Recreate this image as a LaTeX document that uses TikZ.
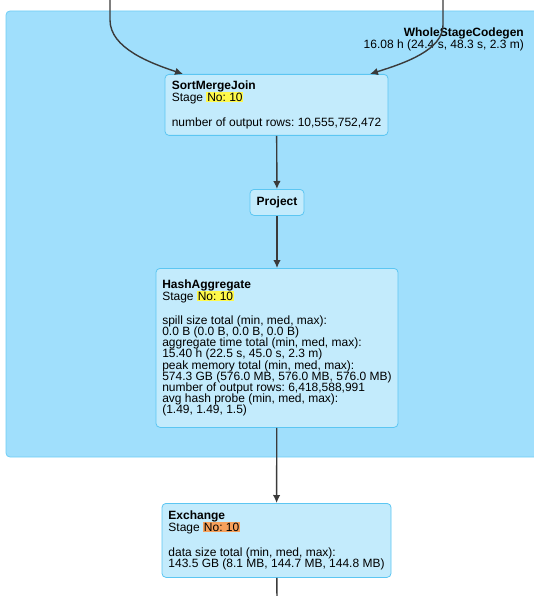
\documentclass[tikz,border=0pt]{standalone}
\usepackage{fontspec}
\setmainfont{Liberation Sans}
\usetikzlibrary{arrows.meta}

\definecolor{clusterfill}{HTML}{A0DFFC}
\definecolor{clusterline}{HTML}{6FCDF5}
\definecolor{opfill}{HTML}{C3EBFC}
\definecolor{opline}{HTML}{5CC6F2}
\definecolor{edgecol}{HTML}{3A3A3A}
\definecolor{stageyellow}{HTML}{FFF94A}
\definecolor{stageorange}{HTML}{F7A15C}

\newcommand{\opfont}{\fontsize{12}{11.2}\selectfont\frenchspacing\lineskiplimit=-20pt\relax}
\newcommand{\stageno}[1]{Stage {\setlength{\fboxsep}{0.8pt}\colorbox{#1}{No: 10}}}

\begin{document}
\begin{tikzpicture}[x=1pt, y=-1pt,
    cluster/.style={fill=clusterfill, draw=clusterline, line width=0.8pt, rounded corners=4pt},
    op/.style={draw=opline, fill=opfill, line width=0.8pt, rounded corners=4pt,
      anchor=north, align=left, inner xsep=0pt, inner ysep=0pt, font=\opfont},
    flow/.style={->, >={Latex[length=8pt,width=7.5pt]}, draw=edgecol, line width=1.4pt}]
  \useasboundingbox (0,0) rectangle (534,596);
  \clip (0,0) rectangle (534,596);
  % codegen stage
  \draw[cluster] (6,11) rectangle (560,457);
  \node[anchor=north east, align=right, font=\opfont, inner sep=0pt] (wscg) at (524,28)
    {\textbf{WholeStageCodegen}\\16.08 h (24.4 s, 48.3 s, 2.3 m)};
  % operators
  \node[op, minimum width=223pt, minimum height=61pt] (smj) at (276.5,74)
    {\textbf{SortMergeJoin}\\[0.8pt]\stageno{stageyellow}\\[13.8pt]
     number of output rows: 10,555,752,472};
  \node[op, align=center, minimum width=54pt, minimum height=26pt] (proj) at (277,189)
    {\textbf{Project}};
  \node[op, minimum width=242pt, minimum height=159pt] (hagg) at (277,268)
    {\textbf{HashAggregate}\\[0.8pt]\stageno{stageyellow}\\[12.8pt]
     spill size total (min, med, max):\\
     0.0 B (0.0 B, 0.0 B, 0.0 B)\\
     aggregate time total (min, med, max):\\
     15.40 h (22.5 s, 45.0 s, 2.3 m)\\
     peak memory total (min, med, max):\\
     574.3 GB (576.0 MB, 576.0 MB, 576.0 MB)\\
     number of output rows: 6,418,588,991\\
     avg hash probe (min, med, max):\\
     (1.49, 1.49, 1.5)};
  \node[op, minimum width=229pt, minimum height=74pt] (exch) at (276.5,503)
    {\textbf{Exchange}\\[0.8pt]\stageno{stageorange}\\[13.8pt]
     data size total (min, med, max):\\
     143.5 GB (8.1 MB, 144.7 MB, 144.8 MB)};
  % edges
  \coordinate (inleft) at (110,-2);
  \coordinate (inright) at (443,-2);
  \coordinate (down) at (277,600);
  \draw[flow] (inleft) -- (110,20) .. controls (110,48) and (150,63) .. ([xshift=-93.5pt]smj.north);
  \draw[flow] (inright) -- (443,25) .. controls (443,50) and (405,63) .. ([xshift=93.5pt]smj.north);
  \draw[flow] (smj) -- (proj);
  \draw[flow] (proj) -- (hagg);
  \draw[flow] (hagg) -- (exch);
  \draw[draw=edgecol, line width=1.4pt] (exch) -- (down);
\end{tikzpicture}
\end{document}
